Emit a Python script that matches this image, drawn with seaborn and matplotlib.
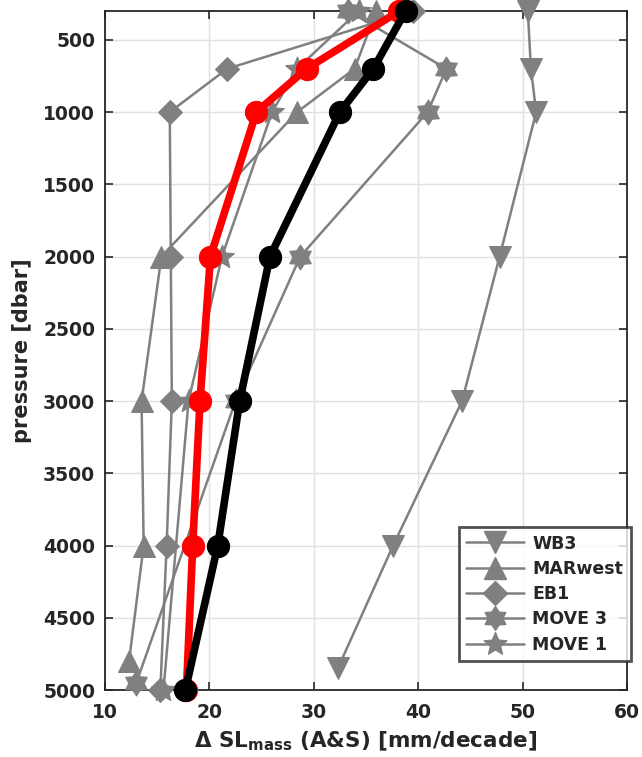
import numpy as np
import pandas as pd
import matplotlib
matplotlib.use("Agg")
import matplotlib.pyplot as plt
from matplotlib.path import Path
import seaborn as sns

# Trends of mass-component sea level per pressure level [mm/decade]
wb3_p = [300, 700, 1000, 2000, 3000, 4000, 4850]
wb3_v = [50.5, 50.8, 51.3, 47.8, 44.2, 37.6, 32.3]

marwest_p = [300, 700, 1000, 2000, 3000, 4000, 4800]
marwest_v = [36.0, 33.9, 28.4, 15.4, 13.5, 13.7, 12.3]

eb1_p = [300, 700, 1000, 2000, 3000, 4000, 5000]
eb1_v = [39.5, 21.7, 16.2, 16.3, 16.4, 15.9, 15.3]

move3_p = [300, 700, 1000, 2000, 3000, 4950]
move3_v = [33.3, 42.7, 40.9, 28.7, 22.5, 13.0]

move1_p = [300, 700, 1000, 2000, 3000, 5000]
move1_v = [34.3, 28.4, 26.0, 21.2, 18.0, 15.6]

red_p = [300, 700, 1000, 2000, 3000, 4000, 5000]
red_v = [38.2, 29.3, 24.5, 20.1, 19.1, 18.4, 17.8]

black_p = [300, 700, 1000, 2000, 3000, 4000, 5000]
black_v = [38.8, 35.7, 32.5, 25.8, 22.9, 20.8, 17.7]

xticks = [10, 20, 30, 40, 50, 60]
yticks = [500, 1000, 1500, 2000, 2500, 3000, 3500, 4000, 4500, 5000]


def star_path(npts, inner):
    """Closed star outline with npts tips and the given inner radius ratio."""
    ang = np.pi / 2 + np.arange(2 * npts) * np.pi / npts
    rad = np.where(np.arange(2 * npts) % 2 == 0, 1.0, inner)
    verts = np.column_stack([rad * np.cos(ang), rad * np.sin(ang)])
    verts = np.vstack([verts, verts[:1]])
    codes = [Path.MOVETO] + [Path.LINETO] * (2 * npts - 1) + [Path.CLOSEPOLY]
    return Path(verts, codes)


hexagram = star_path(6, 0.62)
pentagram = star_path(5, 0.45)

sns.set_theme(style="white")
plt.rcParams["font.family"] = ["DejaVu Sans"]
plt.rcParams["font.weight"] = "bold"
plt.rcParams["mathtext.default"] = "bf"

fig = plt.figure(figsize=(6.42, 7.57), dpi=100)
ax = fig.add_axes([0.1636, 0.0885, 0.8130, 0.897])

gray = "#808080"
gray_series = [
    ("WB3", wb3_v, wb3_p, "v", 16),
    ("MARwest", marwest_v, marwest_p, "^", 16),
    ("EB1", eb1_v, eb1_p, "D", 12.5),
    ("MOVE 3", move3_v, move3_p, hexagram, 18),
    ("MOVE 1", move1_v, move1_p, pentagram, 18),
]

handles = []
for name, v, p, mk, ms in gray_series:
    df = pd.DataFrame({"trend": v, "pressure": p})
    sns.lineplot(data=df, x="trend", y="pressure", sort=False, estimator=None,
                 color=gray, lw=1.8, marker=mk, markersize=ms,
                 markeredgecolor=gray, markerfacecolor=gray, ax=ax, zorder=3,
                 clip_on=False)
    handles.append(plt.Line2D([], [], color=gray, lw=1.8, marker=mk,
                              markersize=ms, markeredgecolor=gray,
                              markerfacecolor=gray, label=name))

for v, p, c in [(red_v, red_p, "#ff0000"), (black_v, black_p, "black")]:
    df = pd.DataFrame({"trend": v, "pressure": p})
    sns.lineplot(data=df, x="trend", y="pressure", sort=False, estimator=None,
                 color=c, lw=5.5, marker="o", markersize=16,
                 markeredgecolor=c, markerfacecolor=c, ax=ax, zorder=4,
                 clip_on=False)

ax.set_xlim(10, 60)
ax.set_ylim(5000, 300)
ax.set_xticks(xticks)
ax.set_yticks(yticks)
ax.set_xticklabels([str(t) for t in xticks], fontsize=13.5, fontweight="bold", color="#262626")
ax.set_yticklabels([str(t) for t in yticks], fontsize=13.5, fontweight="bold", color="#262626")
ax.grid(True, color="#e0e0e0", lw=1.0)
ax.set_axisbelow(True)
ax.tick_params(axis="both", direction="in", length=6, width=1.2, top=True, right=True,
               bottom=True, left=True, colors="#262626")
ax.tick_params(axis="x", pad=9)
ax.tick_params(axis="y", pad=7)
for s in ax.spines.values():
    s.set_color("#262626")
    s.set_linewidth(1.3)
    s.set_zorder(2)

ax.set_xlabel(r"$\Delta$ SL$_{\mathbf{mass}}$ (A&S) [mm/decade]", fontsize=15.5,
              fontweight="bold", color="#262626", labelpad=6)
ax.set_ylabel("pressure [dbar]", fontsize=15, fontweight="bold", color="#262626", labelpad=8)

leg = ax.legend(handles=handles, loc="lower right", bbox_to_anchor=(1.008, 0.042),
                frameon=True, fancybox=False, handlelength=3.3,
                labelspacing=0.42, borderpad=0.45, handletextpad=0.5,
                borderaxespad=0.0, markerscale=0.95,
                prop={"weight": "bold", "size": 12.5})
leg.get_frame().set_edgecolor("#262626")
leg.get_frame().set_linewidth(2)
leg.set_zorder(10)

fig.savefig("out.png", dpi=100)
